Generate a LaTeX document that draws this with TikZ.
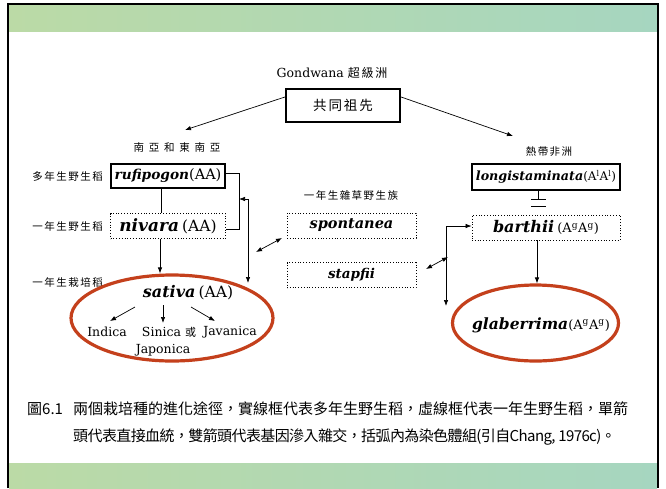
\documentclass[tikz,border=0pt]{standalone}
\usepackage{fontspec}
\setmainfont{DejaVu Serif}
\newfontfamily\cjk{Noto Sans CJK TC}
\newfontfamily\cjkn[LetterSpace=-4]{Noto Sans CJK TC}
\newfontfamily\cjkw[LetterSpace=14]{Noto Sans CJK TC}
\newfontfamily\cjkww[LetterSpace=45]{Noto Sans CJK TC}
\usetikzlibrary{arrows.meta,shapes.geometric}
\definecolor{ellred}{HTML}{C4401C}
\definecolor{gA}{HTML}{BBDAA6}
\definecolor{gB}{HTML}{A6D6C0}
\newcommand{\spbi}[2]{{\fontsize{#1}{#1}\selectfont\bfseries\itshape #2}}
\newcommand{\sprm}[2]{{\fontsize{#1}{#1}\selectfont #2}}
\tikzset{
  solidbox/.style={draw, line width=1.6pt, inner sep=0pt},
  dotbox/.style={draw, dotted, line width=0.8pt, inner sep=0pt},
  conn/.style={line width=0.7pt},
  mytip/.tip={Latex[length=6pt,width=4.5pt]},
  arr/.style={conn, -mytip},
  darr/.style={conn, mytip-mytip},
  redell/.style={ellipse, draw=ellred, line width=3.2pt, inner sep=0pt},
  lbl/.style={font=\fontsize{10.5}{12}\selectfont\cjkw, inner sep=0pt},
  sub/.style={font=\fontsize{12.5}{13}\selectfont, inner sep=0pt},
  captxt/.style={font=\fontsize{15}{17}\selectfont\cjk, inner sep=0pt, anchor=west}
}
\begin{document}
\begin{tikzpicture}[x=1pt,y=-1pt]
\useasboundingbox (0,0) rectangle (666,488);
\fill[white] (0,0) rectangle (666,488);
% frame and bands
\shade[left color=gA, right color=gB] (9,5) rectangle (657,31);
\shade[left color=gA, right color=gB] (9,463) rectangle (657,488);
\draw[line width=2.2pt] (8,488) -- (8,4) -- (658,4) -- (658,488);

% nodes
\node[inner sep=0pt, font=\fontsize{12.5}{15}\selectfont] (gond) at (332,73) {Gondwana {\fontsize{12}{13}\selectfont\cjkw 超級洲}};
\node[solidbox, line width=2.2pt, minimum width=114pt, minimum height=33pt,
      font=\fontsize{13.5}{14}\selectfont\cjkw] (anc) at (343,105.5) {共同祖先};
\node[lbl, font=\fontsize{10.5}{12}\selectfont\cjkww] (sasia) at (177,148) {南亞和東南亞};
\node[lbl] (afr) at (549,152) {熱帶非洲};
\node[lbl, anchor=east] (perw) at (103,176) {多年生野生稻};
\node[lbl, anchor=east] (annw) at (103,226) {一年生野生稻};
\node[lbl, anchor=east] (annc) at (103,282) {一年生栽培稻};
\node[lbl] (weed) at (351,195) {一年生雜草野生族};

\node[solidbox, minimum width=114pt, minimum height=24pt] (rufi) at (168,176)
  {\spbi{13.7}{rufipogon}\sprm{14.5}{(AA)}};
\node[dotbox, minimum width=115pt, minimum height=25pt] (niva) at (168,226)
  {\spbi{17}{nivara} \sprm{15.5}{(AA)}};
\node[dotbox, minimum width=129pt, minimum height=25pt] (spon) at (351.5,225.5) {\spbi{14.5}{spontanea}};
\node[dotbox, minimum width=129pt, minimum height=25pt] (stap) at (351.5,275) {\spbi{13.5}{stapfii}};
\node[solidbox, minimum width=148pt, minimum height=26pt] (longi) at (546,177)
  {\spbi{12.7}{longistaminata}\sprm{12}{(A$^{\mathrm{l}}$A$^{\mathrm{l}}$)}};
\node[dotbox, minimum width=148pt, minimum height=25pt] (barth) at (546,227.5)
  {\spbi{16}{barthii} \sprm{13}{(A$^{\mathrm{g}}$A$^{\mathrm{g}}$)}};

\node[redell, minimum width=202pt, minimum height=86pt] (ellL) at (172,318) {};
\node[redell, minimum width=166pt, minimum height=76pt] (ellR) at (535.5,323) {};

\node[inner sep=0pt] (sat) at (188,293) {\spbi{16}{sativa} \sprm{15.5}{(AA)}};
\node[sub] (ind) at (107,332) {Indica};
\node[sub] (sin) at (169,332) {Sinica {\fontsize{11}{11}\selectfont\cjk 或}};
\node[sub] (jav) at (230,332) {Javanica};
\node[sub] (jap) at (163,350) {Japonica};
\node[inner sep=0pt] (glab) at (541,325) {\spbi{15.5}{glaberrima}\sprm{13}{(A$^{\mathrm{g}}$A$^{\mathrm{g}}$)}};

% caption
\node[captxt] (c0) at (27,409) {圖6.1};
\node[captxt] (c1) at (73,409) {兩個栽培種的進化途徑，實線框代表多年生野生稻，虛線框代表一年生野生稻，單箭};
\node[captxt, font=\fontsize{15}{17}\selectfont\cjkn] (c2) at (73,437) {頭代表直接血統，雙箭頭代表基因滲入雜交，括弧內為染色體組(引自Chang, 1976c)。};

% coordinates
\coordinate (tsa) at (185,130);
\coordinate (taf) at (513,136);
\coordinate (bT) at (239,173);
\coordinate (bB) at (239,229);
\coordinate (bM) at (239,199);
\coordinate (dC) at (248,199);
\coordinate (dE) at (248,283);
\coordinate (x1a) at (256,252);
\coordinate (x1b) at (282,238);
\coordinate (x2a) at (426,269);
\coordinate (x2b) at (448,257);
\coordinate (rC) at (446,226);
\coordinate (rE) at (446,306);
\coordinate (bar1) at (538,199);
\coordinate (bar2) at (538,206);
\coordinate (s1) at (135,307);
\coordinate (s2) at (163,305);
\coordinate (s3) at (191,307);
\coordinate (e1) at (110,321);
\coordinate (e2) at (163,323);
\coordinate (e3) at (215,321);

% connectors
\draw[arr] (anc.west |- 0,97) -- (tsa);
\draw[arr] (anc.east |- 0,97) -- (taf);
\draw[conn] (rufi.south -| 161,0) -- (niva.north -| 161,0);
\draw[arr] (niva.south -| 160,0) -- (ellL.north -| 160,0);
\draw[conn] (rufi.east |- bT) -- (bT) -- (bB) -- (niva.east |- bB);
\draw[conn, mytip-] (bM) -- (dC);
\draw[arr] (dC) -- (dE);
\draw[darr] (x1a) -- (x1b);
\draw[darr] (x2a) -- (x2b);
\draw[conn] (longi.south -| bar1) -- (bar1);
\draw[conn] ([xshift=-7pt]bar1) -- ([xshift=8pt]bar1);
\draw[conn] ([xshift=-7pt]bar2) -- ([xshift=8pt]bar2);
\draw[conn] (bar2) -- ([yshift=8pt]barth.north -| bar1);
\draw[arr] (barth.south -| 537,0) -- (ellR.north -| 537,0);
\draw[conn, mytip-] (barth.west |- rC) -- (rC);
\draw[arr] (rC) -- (rE);
\draw[arr] (s1) -- (e1);
\draw[arr] (s2) -- (e2);
\draw[arr] (s3) -- (e3);
\end{tikzpicture}
\end{document}
